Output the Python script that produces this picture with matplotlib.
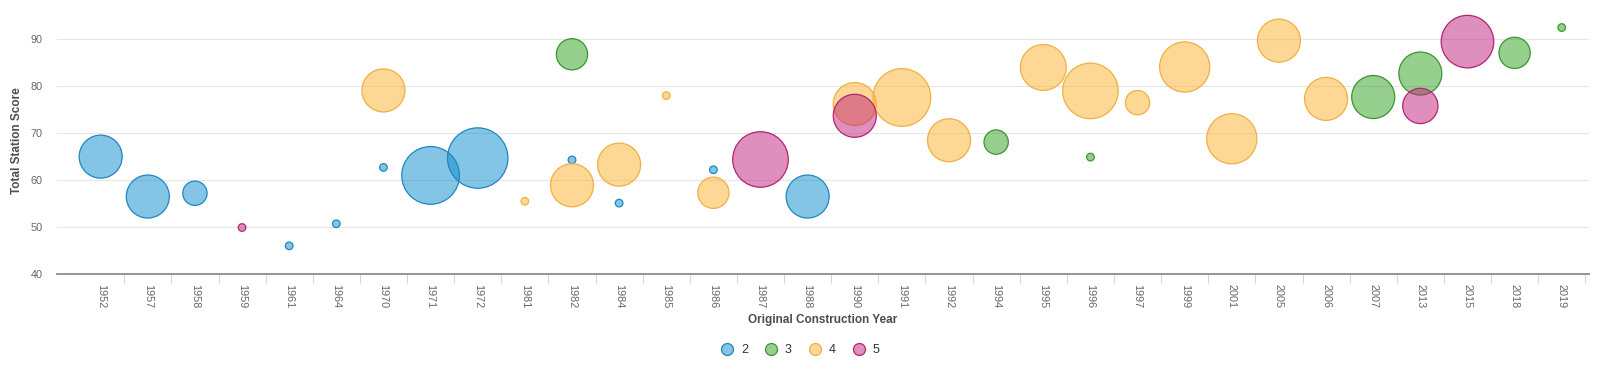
import matplotlib
matplotlib.use("Agg")
import matplotlib.pyplot as plt
from matplotlib.lines import Line2D
from matplotlib.ticker import FixedLocator
import numpy as np

plt.rcParams["font.family"] = ["Liberation Sans", "DejaVu Sans"]

# categories on the x axis
years = ["1952", "1957", "1958", "1959", "1961", "1964", "1970", "1971", "1972", "1981",
         "1982", "1984", "1985", "1986", "1987", "1988", "1990", "1991", "1992", "1994",
         "1995", "1996", "1997", "1999", "2001", "2005", "2006", "2007", "2013", "2015",
         "2018", "2019"]

# series "2"
s2_year = ["1952", "1957", "1958", "1961", "1964", "1970", "1971", "1972", "1982", "1984", "1986", "1988"]
s2_score = [65.0, 56.5, 57.2, 46.0, 50.7, 62.7, 61.0, 64.7, 64.3, 55.1, 62.2, 56.5]
s2_z = [10, 10, 3, 1, 1, 1, 19, 21, 1, 1, 1, 10]

# series "3"
s3_year = ["1982", "1994", "1996", "2007", "2013", "2018", "2019"]
s3_score = [86.8, 68.1, 64.9, 77.7, 82.7, 87.1, 92.5]
s3_z = [5, 3, 1, 10, 10, 5, 1]

# series "4"
s4_year = ["1970", "1981", "1982", "1984", "1985", "1986", "1990", "1991", "1992", "1995",
           "1996", "1997", "1999", "2001", "2005", "2006"]
s4_score = [79.1, 55.5, 58.9, 63.3, 78.0, 57.3, 76.2, 77.6, 68.5, 84.0,
            79.0, 76.5, 84.1, 68.8, 89.7, 77.3]
s4_z = [10, 1, 10, 10, 1, 5, 10, 19, 10, 11.5, 17.5, 3, 14, 14, 10, 10]

# series "5"
s5_year = ["1959", "1987", "1990", "2013", "2015"]
s5_score = [49.9, 64.4, 73.7, 75.8, 89.5]
s5_z = [1, 17.5, 10, 6.5, 15.5]

series = [
    ("2", s2_year, s2_score, s2_z, "#0a8ccf", "#1f86c2"),
    ("3", s3_year, s3_score, s3_z, "#2ea01f", "#3a9530"),
    ("4", s4_year, s4_score, s4_z, "#fdb12d", "#f0b040"),
    ("5", s5_year, s5_score, s5_z, "#c1217d", "#b5246f"),
]

DPI = 100
R_MIN, R_MAX = 3.8, 30.2  # bubble radius in px
z_all = s2_z + s3_z + s4_z + s5_z
z_min, z_max = min(z_all), max(z_all)


def bubble_area(z):
    p = np.sqrt((np.asarray(z, float) - z_min) / (z_max - z_min))
    r_px = R_MIN + p * (R_MAX - R_MIN)
    return (2 * r_px * 72.0 / DPI) ** 2


fig = plt.figure(figsize=(16, 3.75), dpi=DPI)
ax = fig.add_axes([56.7 / 1600, 1 - 274 / 375, (1589.3 - 56.7) / 1600, (274 - 6.4) / 375])

xpos = {y: i for i, y in enumerate(years)}
for name, yr, sc, z, base, edge in series:
    ax.scatter([xpos[v] for v in yr], sc, s=bubble_area(z), facecolor=base, alpha=0.5,
               edgecolor="none", zorder=3)
    ax.scatter([xpos[v] for v in yr], sc, s=bubble_area(z), facecolor="none",
               edgecolor=edge, linewidth=0.9, zorder=3)

ax.set_xlim(-0.933, 31.585)
ax.set_ylim(40, 97)

ax.set_xticks(range(len(years)))
ax.set_xticklabels(years, rotation=-90, va="top", ha="center", fontsize=7.8, color="#666666")
ax.xaxis.set_minor_locator(FixedLocator(np.arange(0.5, len(years), 1.0)))
ax.tick_params(axis="x", which="major", length=0, pad=7.5)
ax.tick_params(axis="x", which="minor", length=6.5, width=0.8, color="#ccd6eb")

ax.set_yticks([40, 50, 60, 70, 80, 90])
ax.tick_params(axis="y", length=0, pad=10, labelsize=7.8, labelcolor="#666666")
ax.grid(axis="y", color="#e6e6e6", linewidth=0.8, zorder=0)
ax.set_axisbelow(True)

for side in ("top", "right", "left"):
    ax.spines[side].set_visible(False)
ax.spines["bottom"].set_color("#8c8c8c")
ax.spines["bottom"].set_linewidth(1.3)

ax.set_ylabel("Total Station Score", fontsize=8.5, fontweight="bold", color="#4d4d4d")
ax.yaxis.set_label_coords(-0.0222, 0.5)
fig.text(823 / 1600, 1 - 320 / 375, "Original Construction Year", ha="center", va="center",
         fontsize=8.5, fontweight="bold", color="#4d4d4d")

handles = [Line2D([], [], marker="o", linestyle="none", markersize=8.6,
                  markerfacecolor=matplotlib.colors.to_rgba(base, 0.5),
                  markeredgecolor=edge, markeredgewidth=0.9)
           for name, _, _, _, base, edge in series]
fig.legend(handles, [s[0] for s in series], loc="center", bbox_to_anchor=(0.5, 1 - 350 / 375),
           ncol=4, frameon=False, fontsize=9, labelcolor="#333333", handlelength=1.0,
           handletextpad=0.6, columnspacing=1.35)

fig.savefig("out.png", dpi=DPI)
